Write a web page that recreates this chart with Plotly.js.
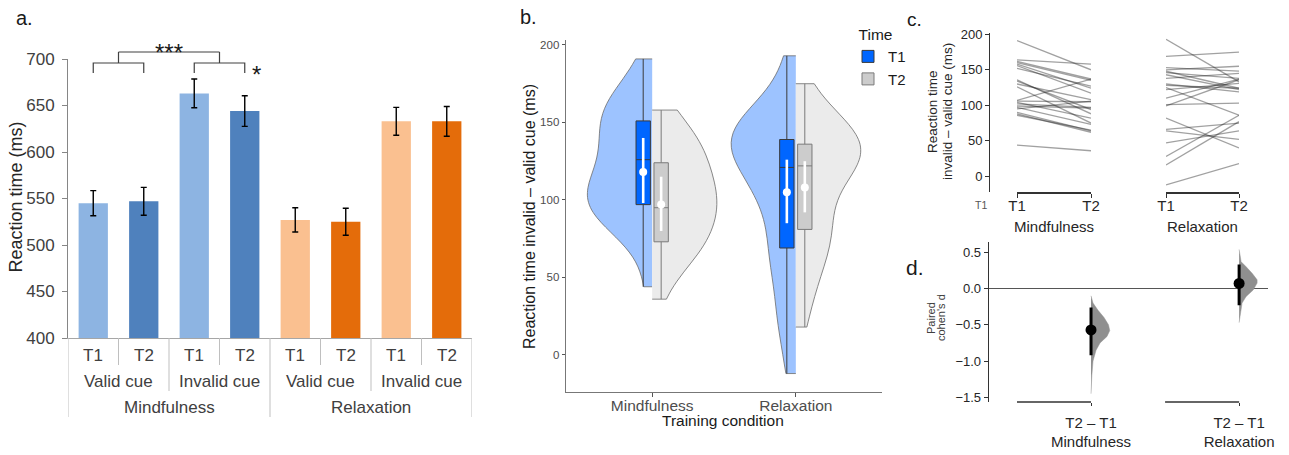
<!DOCTYPE html>
<html><head><meta charset="utf-8">
<script src="https://cdn.plot.ly/plotly-3.0.1.min.js"></script>
<style>html,body{margin:0;padding:0;background:#fff}#chart{width:1289px;height:455px}</style>
</head><body><div id="chart"></div>
<script>
// ---------- Panel a: bar chart ----------
const barLabels = ['T1','T2','T1','T2','T1','T2','T1','T2'];
const cueLabels = ['Valid cue','Invalid cue','Valid cue','Invalid cue'];
const groupLabels = ['Mindfulness','Relaxation'];
const barMeans = [545, 547, 663, 644, 527, 525, 633, 633];
const barErr   = [13.5, 15, 15.5, 16.5, 13, 14.5, 15, 16];
const barColors = ['#8DB4E2','#4F81BD','#8DB4E2','#4F81BD','#FAC090','#E46C0A','#FAC090','#E46C0A'];

// ---------- Panel b: half violins + boxes ----------
const conditions = ['Mindfulness','Relaxation'];
const q1T1 = [97, 69],  medT1 = [126, 121], q3T1 = [151, 139];
const meanT1 = [118, 105], ciLoT1 = [98, 85], ciHiT1 = [140, 126];
const q1T2 = [73, 81],  medT2 = [95, 122], q3T2 = [124, 136];
const meanT2 = [97, 108], ciLoT2 = [80, 92], ciHiT2 = [115, 125];
const bwT1 = [20, 19], bwT2 = [18, 20];   // kernel bandwidths (ms)

// ---------- Panel c: paired individual data ----------
const mindT1  = [191, 164, 162, 160, 158, 156, 152, 136, 134, 130, 126, 107, 106, 104, 102, 99, 97, 95, 90, 88, 86, 44];
const mindT2  = [150, 158, 137, 135, 124, 117, 127, 88, 94, 108, 75, 137, 105, 82, 97, 96, 73, 106, 64, 62, 65, 36];
const relaxT1 = [193, 169, 153, 150, 148, 146, 143, 138, 130, 128, 125, 122, 110, 101, 99, 82, 66, 64, 47, 28, 16, -12];
const relaxT2 = [133, 175, 148, 155, 124, 138, 122, 145, 119, 124, 86, 131, 137, 103, 136, 40, 75, 52, 64, 86, 77, 18];
const timeLabels = ['T1','T2'];

// ---------- Panel d: paired Cohen's d ----------
const effLabels = ['T2 – T1<br>Mindfulness', 'T2 – T1<br>Relaxation'];
const dEff = [-0.57, 0.07];
const dLo  = [-0.92, -0.23];
const dHi  = [-0.26, 0.33];
const dValsM = [-0.10, -0.20, -0.30, -0.40, -0.50, -0.58, -0.66, -0.75, -0.85, -1.00, -1.20, -1.45];
const dDensM = [0, 0.027, 0.095, 0.176, 0.236, 0.253, 0.216, 0.122, 0.068, 0.027, 0.011, 0];
const dValsR = [0.54, 0.37, 0.30, 0.21, 0.12, 0.075, -0.02, -0.11, -0.20, -0.34, -0.47];
const dDensR = [0, 0.027, 0.095, 0.176, 0.243, 0.243, 0.19, 0.095, 0.04, 0.014, 0];

// ---------- helpers (layout positions in pixels of the 1289x455 page) ----------
const W = 1289, H = 455;
const px = x => x / W;
const py = y => 1 - y / H;
const FONT = 'Liberation Sans, Arial, sans-serif';

const traces = [];
const annotations = [];
const shapes = [];
const lab = (o) => annotations.push(Object.assign({showarrow: false, xanchor: 'center', yanchor: 'middle'}, o));

// ===== Panel a =====
const barIdx = barMeans.map((_, i) => i);
traces.push({
  type: 'bar', x: barIdx, y: barMeans, xaxis: 'x', yaxis: 'y',
  marker: {color: barColors, line: {width: 0}}, width: 0.58,
  error_y: {type: 'data', array: barErr, color: '#000', thickness: 1.4, width: 3},
  showlegend: false, hoverinfo: 'skip'
});
barLabels.forEach((t, i) => lab({text: t, x: i, xref: 'x', y: py(355), yref: 'paper', font: {size: 17, color: '#404040'}}));
cueLabels.forEach((t, j) => lab({text: t, x: 2 * j + 0.5, xref: 'x', y: py(381), yref: 'paper', font: {size: 17, color: '#404040'}}));
groupLabels.forEach((t, k) => lab({text: t, x: 4 * k + 1.5, xref: 'x', y: py(407), yref: 'paper', font: {size: 17, color: '#404040'}}));
// category separators
for (let b = 0; b <= barLabels.length; b++) {
  const xb = b - 0.5;
  let yEnd = 365;
  if (b % 2 === 0) yEnd = 391;
  if (b % 4 === 0) yEnd = 417;
  shapes.push({type: 'line', xref: 'x', yref: 'paper', x0: xb, x1: xb, y0: py(338), y1: py(yEnd),
               line: {color: '#BFBFBF', width: 1}});
}
// significance brackets
const brY = py(63), brTick = py(73), brTop = py(52);
[[0, 1], [2, 3]].forEach(([a, b]) => {
  shapes.push({type: 'path', xref: 'x', yref: 'paper',
    path: `M${a},${brTick} L${a},${brY} L${b},${brY} L${b},${brTick}`, line: {color: '#404040', width: 1.2}});
  shapes.push({type: 'line', xref: 'x', yref: 'paper', x0: (a + b) / 2, x1: (a + b) / 2, y0: brY, y1: brTop,
    line: {color: '#404040', width: 1.2}});
});
shapes.push({type: 'line', xref: 'x', yref: 'paper', x0: 0.5, x1: 2.5, y0: brTop, y1: brTop, line: {color: '#404040', width: 1.2}});
lab({text: '***', x: 1.5, xref: 'x', y: py(52), yref: 'paper', font: {size: 24, color: '#1a1a1a'}});
lab({text: '*', x: 3.23, xref: 'x', y: py(75), yref: 'paper', font: {size: 24, color: '#1a1a1a'}});

// ===== Panel b =====
const pos = [1, 2];
const off = 0.0625;
const violinBase = {type: 'violin', xaxis: 'x2', yaxis: 'y2', spanmode: 'hard', points: false,
  box: {visible: false}, meanline: {visible: false}, line: {color: '#6b6b6b', width: 0.8},
  width: 0.9, scalegroup: 'b', scalemode: 'width', showlegend: false, hoverinfo: 'skip'};
[[mindT1, mindT2], [relaxT1, relaxT2]].forEach(([a, b], k) => {
  traces.push(Object.assign({}, violinBase, {x: a.map(() => pos[k]), y: a, side: 'negative',
    fillcolor: '#9DC3FF', bandwidth: bwT1[k]}));
  traces.push(Object.assign({}, violinBase, {x: b.map(() => pos[k]), y: b, side: 'positive',
    fillcolor: '#EBEBEB', bandwidth: bwT2[k]}));
});
const minOf = a => Math.min(...a), maxOf = a => Math.max(...a);
traces.push({
  type: 'box', name: 'T1', x: pos.map(p => p - off), xaxis: 'x2', yaxis: 'y2',
  q1: q1T1, median: medT1, q3: q3T1,
  lowerfence: [minOf(mindT1), minOf(relaxT1)], upperfence: [maxOf(mindT1), maxOf(relaxT1)],
  width: 0.1, whiskerwidth: 0, fillcolor: '#0066FF', line: {color: '#3a3a3a', width: 1},
  boxpoints: false, hoverinfo: 'skip'
});
traces.push({
  type: 'box', name: 'T2', x: pos.map(p => p + off), xaxis: 'x2', yaxis: 'y2',
  q1: q1T2, median: medT2, q3: q3T2,
  lowerfence: [minOf(mindT2), minOf(relaxT2)], upperfence: [maxOf(mindT2), maxOf(relaxT2)],
  width: 0.1, whiskerwidth: 0, fillcolor: '#CCCCCC', line: {color: '#7a7a7a', width: 1},
  boxpoints: false, hoverinfo: 'skip'
});
[[pos.map(p => p - off), meanT1, ciLoT1, ciHiT1], [pos.map(p => p + off), meanT2, ciLoT2, ciHiT2]].forEach(([xx, m, lo, hi]) => {
  traces.push({
    type: 'scatter', mode: 'markers', x: xx, y: m, xaxis: 'x2', yaxis: 'y2',
    marker: {color: '#fff', size: 8},
    error_y: {type: 'data', symmetric: false, array: hi.map((h, i) => h - m[i]), arrayminus: lo.map((l, i) => m[i] - l),
              color: '#fff', thickness: 2.6, width: 0},
    showlegend: false, hoverinfo: 'skip'
  });
});

// ===== Panel c =====
const lineColor = 'rgba(30,30,30,0.42)';
[[mindT1, mindT2, 'x4'], [relaxT1, relaxT2, 'x5']].forEach(([a, b, xa]) => {
  a.forEach((v, i) => traces.push({
    type: 'scatter', mode: 'lines', x: [0, 1], y: [v, b[i]], xaxis: xa, yaxis: 'y4',
    line: {color: lineColor, width: 1.3}, showlegend: false, hoverinfo: 'skip'
  }));
});

// ===== Panel d =====
const dPos = [1, 3];
[[dValsM, dDensM, dPos[0]], [dValsR, dDensR, dPos[1]]].forEach(([vals, dens, p]) => {
  traces.push({
    type: 'scatter', mode: 'lines', xaxis: 'x6', yaxis: 'y6',
    x: [p, ...dens.map(d => p + d), p], y: [vals[0], ...vals, vals[vals.length - 1]],
    fill: 'toself', fillcolor: '#8f8f8f', line: {color: 'rgba(150,150,150,0.6)', width: 0.8},
    showlegend: false, hoverinfo: 'skip'
  });
});
traces.push({
  type: 'scatter', mode: 'markers', x: dPos, y: dEff, xaxis: 'x6', yaxis: 'y6',
  marker: {color: '#000', size: 11},
  error_y: {type: 'data', symmetric: false, array: dHi.map((h, i) => h - dEff[i]), arrayminus: dLo.map((l, i) => dEff[i] - l),
            color: '#000', thickness: 3, width: 0},
  showlegend: false, hoverinfo: 'skip'
});
dPos.forEach(p => shapes.push({type: 'line', xref: 'x6', yref: 'paper', x0: p - 1, x1: p, y0: py(402), y1: py(402),
  line: {color: '#333', width: 1.3}}));

// ===== titles & panel letters =====
const ann = (text, x, y, size, color, angle) => lab({
  text, x: px(x), y: py(y), xref: 'paper', yref: 'paper',
  font: {size, color: color || '#1a1a1a'}, textangle: angle || 0
});
ann('a.', 25, 18, 20);
ann('b.', 528, 17, 20);
ann('c.', 914, 20, 19);
ann('d.', 915, 267, 21);
ann('Reaction time (ms)', 15.5, 197, 18, '#262626', -90);
ann('Reaction time invalid – valid cue (ms)', 529, 217, 16, '#1a1a1a', -90);
ann('Training condition', 723, 420, 15.5, '#1a1a1a');
ann('Reaction time', 932, 112, 13.5, '#262626', -90);
ann('invalid – valid cue (ms)', 947, 112, 13.5, '#262626', -90);
ann('Mindfulness', 1054, 226, 15, '#262626');
ann('Relaxation', 1202, 226, 15, '#262626');
ann('Paired', 931, 318, 11, '#404040', -90);
ann("cohen's d", 941, 318, 11, '#404040', -90);
ann('T1', 981, 205, 10.5, '#555');

const baseAx = {showgrid: false, zeroline: false, fixedrange: true};
const layout = {
  width: W, height: H, margin: {l: 0, r: 0, t: 0, b: 0},
  paper_bgcolor: '#fff', plot_bgcolor: 'rgba(0,0,0,0)',
  font: {family: FONT, color: '#262626'},
  hovermode: false, violinmode: 'overlay', boxmode: 'overlay',
  showlegend: true,
  legend: {x: px(848), y: py(20), xanchor: 'left', yanchor: 'top', bgcolor: 'rgba(0,0,0,0)',
           title: {text: '\u00a0\u00a0Time', font: {size: 15.5, color: '#1a1a1a'}}, font: {size: 15, color: '#1a1a1a'},
           tracegroupgap: 0},
  xaxis: Object.assign({}, baseAx, {domain: [px(68), px(472)], range: [-0.5, 7.5], showline: true,
          linecolor: '#A6A6A6', linewidth: 1, showticklabels: false, ticks: '', anchor: 'y'}),
  yaxis: Object.assign({}, baseAx, {domain: [py(338), py(59)], range: [400, 700], tick0: 400, dtick: 50,
          ticks: 'outside', ticklen: 5, tickcolor: '#868686', showline: true, linecolor: '#868686',
          tickfont: {size: 17, color: '#404040'}, ticklabelstandoff: 4, anchor: 'x'}),
  xaxis2: Object.assign({}, baseAx, {domain: [px(566), px(882)], range: [0.4, 2.6], tickvals: pos, ticktext: conditions,
          ticks: 'outside', ticklen: 4, tickcolor: '#555', showline: true, linecolor: '#777', linewidth: 1.4,
          tickfont: {size: 15.5, color: '#4D4D4D'}, ticklabelstandoff: -5, anchor: 'y2'}),
  yaxis2: Object.assign({}, baseAx, {domain: [py(392), py(40)], range: [-23.9, 203.2], tickvals: [0, 50, 100, 150, 200],
          ticks: 'outside', ticklen: 3, tickcolor: '#555', showline: true, linecolor: '#777', linewidth: 1.4,
          tickfont: {size: 11.5, color: '#4D4D4D'}, anchor: 'x2'}),
  xaxis4: Object.assign({}, baseAx, {domain: [px(1017), px(1091)], range: [0, 1], tickvals: [0, 1], ticktext: timeLabels,
          ticks: 'outside', ticklen: 4, tickcolor: '#333', showline: true, linecolor: '#333', linewidth: 1.3,
          tickfont: {size: 15, color: '#262626'}, ticklabelstandoff: -5, anchor: 'y4'}),
  xaxis5: Object.assign({}, baseAx, {domain: [px(1166), px(1239)], range: [0, 1], tickvals: [0, 1], ticktext: timeLabels,
          ticks: 'outside', ticklen: 4, tickcolor: '#333', showline: true, linecolor: '#333', linewidth: 1.3,
          tickfont: {size: 15, color: '#262626'}, ticklabelstandoff: -5, anchor: 'y4'}),
  yaxis4: Object.assign({}, baseAx, {domain: [py(192.3), py(33)], range: [-22.5, 201.8], tick0: 0, dtick: 50,
          ticks: 'outside', ticklen: 4, tickcolor: '#333', showline: true, linecolor: '#333', linewidth: 1.3,
          tickfont: {size: 13, color: '#262626'}, anchor: 'free', position: px(989)}),
  xaxis6: Object.assign({}, baseAx, {domain: [px(989), px(1268)], range: [-0.378, 3.39], tickvals: dPos, ticktext: effLabels,
          ticks: 'outside', ticklen: 3, tickcolor: '#333', showline: false,
          tickfont: {size: 15, color: '#262626'}, ticklabelstandoff: 4, anchor: 'y6'}),
  yaxis6: Object.assign({}, baseAx, {domain: [py(401.7), py(241.7)], range: [-1.56, 0.646], tick0: 0, dtick: 0.5,
          tickformat: '.1f', zeroline: true, zerolinecolor: '#555', zerolinewidth: 1,
          ticks: 'outside', ticklen: 4, tickcolor: '#333', showline: true, linecolor: '#333', linewidth: 1.3,
          tickfont: {size: 13, color: '#262626'}, anchor: 'x6'}),
  annotations, shapes
};
Plotly.newPlot('chart', traces, layout, {staticPlot: true, displayModeBar: false});
</script></body></html>
